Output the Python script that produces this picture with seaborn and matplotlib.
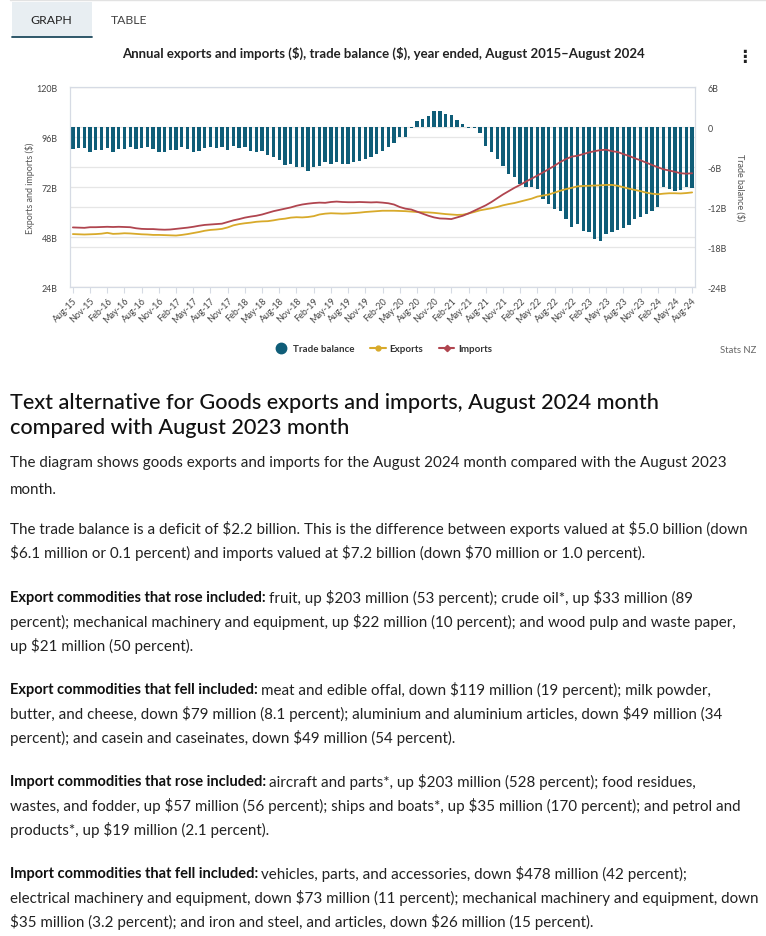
import numpy as np
import pandas as pd
import matplotlib
matplotlib.use("Agg")
import matplotlib.pyplot as plt
from matplotlib.lines import Line2D
import matplotlib.patches as mpatches
import seaborn as sns

# ---------------- data ----------------
months = pd.date_range("2015-08-01", periods=109, freq="MS").strftime("%b-%y").tolist()

trade_balance = [
    -3.3, -3.1, -3.1, -3.7, -3.4, -3.5, -3.1, -3.7, -3.3, -3.3, -3.05,
    -3.3, -3.2, -3.05, -3.3, -3.7, -3.7, -3.4, -3.5, -3.05, -3.3,
    -3.8, -3.55, -3.2, -3.05, -3.2, -3.05, -3.4, -2.8, -3.2, -3.05,
    -3.55, -3.8, -3.55, -4.2, -4.55, -4.9, -5.7, -5.55, -6.05, -6.05, -6.55, -6.05, -5.8,
    -5.3, -5.55, -5.2, -5.55, -5.55, -5.3, -5.05, -4.8, -4.55, -4.05, -3.55, -3.05, -2.45, -1.55, -1.45, -0.2,
    0.9, 1.15, 1.7, 2.35, 2.35, 1.9, 1.8, 1.1, 0.4, -0.12, -0.15,
    -0.95, -2.9, -3.7, -4.8, -5.8, -7.05, -7.55, -8.55, -8.95, -9.05, -9.3, -10.8, -11.55, -12.3, -12.65,
    -13.8, -14.95, -14.55, -15.55, -15.7, -16.8, -17.05, -16.05, -15.8, -15.45, -15.15, -14.65, -13.8,
    -13.55, -13.05, -12.55, -12.05, -9.05, -9.3, -9.55, -9.45, -9.05, -9.15,
]

exports = [
    49.4, 49.3, 49.2, 49.3, 49.4, 49.6, 50.0, 49.5, 49.6, 49.8, 49.7,
    49.5, 49.3, 49.2, 49.0, 49.0, 48.9, 48.8, 48.7, 49.0, 49.4,
    49.9, 50.4, 51.0, 51.4, 51.6, 51.9, 52.6, 53.6, 54.2, 54.6,
    54.9, 55.3, 55.5, 55.6, 56.0, 56.5, 56.8, 57.3, 57.5, 57.4,
    57.6, 58.0, 58.8, 59.2, 59.4, 59.3, 59.2, 59.3, 59.5, 59.7,
    60.0, 60.2, 60.4, 60.6, 60.6, 60.6, 60.5, 60.4, 60.2, 60.0,
    59.9, 59.8, 59.6, 59.3, 59.0, 58.8, 58.6, 58.7, 59.3, 60.0,
    60.8, 61.3, 61.8, 62.4, 63.2, 63.8, 64.3, 65.0, 65.7, 66.4,
    67.4, 67.9, 68.4, 69.3, 70.2, 71.0, 71.6, 72.3, 72.5, 72.6,
    72.7, 72.8, 73.0, 73.0, 72.6, 71.9, 71.2, 70.6, 70.0, 69.3,
    68.8, 68.5, 68.8, 69.0, 69.0, 68.9, 69.1, 69.4,
]

imports = [
    52.6, 52.5, 52.4, 52.7, 52.7, 52.8, 52.9, 52.8, 52.9, 52.8, 52.7,
    52.2, 51.9, 51.8, 51.8, 51.6, 51.5, 51.6, 51.9, 52.2, 52.5,
    52.9, 53.4, 53.8, 54.0, 54.2, 54.4, 55.2, 56.0, 56.6, 57.3,
    57.8, 58.2, 58.8, 59.6, 60.4, 61.0, 61.6, 62.2, 63.0, 63.6,
    64.0, 64.3, 64.5, 64.4, 64.8, 65.0, 64.8, 64.7, 64.7, 64.8,
    64.7, 64.6, 64.7, 64.5, 64.2, 63.6, 62.4, 61.6, 61.2, 60.2,
    59.2, 58.2, 57.4, 56.9, 56.8, 56.6, 57.4, 58.2, 59.3, 60.6,
    61.9, 63.2, 64.8, 66.6, 68.4, 70.0, 71.6, 73.0, 74.6, 76.0,
    77.5, 79.0, 80.6, 82.2, 84.0, 85.4, 86.6, 87.0, 87.8, 88.6,
    89.2, 89.7, 89.9, 89.2, 88.8, 87.8, 86.9, 85.8, 84.8, 83.7,
    82.6, 81.5, 80.5, 79.9, 79.3, 78.6, 78.4, 78.6,
]

left_ticks = [24, 48, 72, 96, 120]
right_ticks = [-24, -18, -12, -6, 0, 6]

df = pd.DataFrame({"idx": np.arange(len(months)), "month": months,
                   "balance": trade_balance, "exports": exports, "imports": imports})

TEAL = "#0f5d78"
GOLD = "#d8aa2b"
RED = "#b0454f"
GRID = "#e6e6e6"
AXC = "#d6dbe4"
TXT = "#222222"

sns.set_theme(style="white")
plt.rcParams["font.family"] = ["Lato", "DejaVu Sans"]
plt.rcParams["text.parse_math"] = False

W, H = 766, 937
fig = plt.figure(figsize=(W / 100, H / 100), dpi=100)

def fx(x):
    return x / W

def fy(y):
    return 1 - y / H

# ---------------- header (tabs, title) ----------------
fig.add_artist(Line2D([fx(10), fx(766)], [fy(1), fy(1)], color="#e2e2e2", lw=1))
fig.add_artist(mpatches.Rectangle((fx(12), fy(38)), fx(80), 35 / H, color="#e8eef2", lw=0))
fig.add_artist(Line2D([fx(12), fx(92)], [fy(38), fy(38)], color="#1f4b5e", lw=1.3))
fig.text(fx(51), fy(20), "GRAPH", ha="center", va="center", fontsize=8.8, color="#222")
fig.text(fx(129), fy(20), "TABLE", ha="center", va="center", fontsize=8.8, color="#444")
fig.text(fx(383), fy(53), "Annual exports and imports ($), trade balance ($), year ended, August 2015\u2013August 2024",
         ha="center", va="center", fontsize=9.5, fontweight="bold", color=TXT)
fig.text(fx(744), fy(57), "\u22ee", ha="center", va="center", fontsize=12, fontweight="bold",
         color="#222", family=["DejaVu Sans"])

# ---------------- chart ----------------
ax = fig.add_axes([fx(70), fy(288), 625 / W, 200 / H])
ax2 = ax.twinx()

sns.barplot(data=df, x="idx", y="balance", ax=ax2, native_scale=True,
            color=TEAL, saturation=1, width=0.58, linewidth=0, zorder=2)
sns.lineplot(data=df, x="idx", y="exports", ax=ax, color=GOLD, lw=1.3, zorder=3)
sns.lineplot(data=df, x="idx", y="imports", ax=ax, color=RED, lw=1.3, zorder=3)

ax.set_zorder(ax2.get_zorder() + 1)
ax.patch.set_visible(False)

ax.set_xlim(-0.5, len(months) - 0.5)
ax.set_ylim(left_ticks[0], left_ticks[-1])
ax2.set_ylim(right_ticks[0], right_ticks[-1])

# gridlines (both scales) underneath bars
ax2.set_axisbelow(True)
for v in right_ticks:
    ax2.axhline(v, color=GRID, lw=0.9, zorder=0)
def left_to_right(v):
    return right_ticks[0] + (v - left_ticks[0]) * (right_ticks[-1] - right_ticks[0]) / (left_ticks[-1] - left_ticks[0])
for v in left_ticks:
    ax2.axhline(left_to_right(v), color=GRID, lw=0.9, zorder=0)
ax.grid(False)
ax2.grid(False)

ax.set_yticks(left_ticks)
ax.set_yticklabels([f"{v}B" for v in left_ticks])
ax2.set_yticks(right_ticks)
ax2.set_yticklabels([("0" if v == 0 else f"{v}B") for v in right_ticks])

xt = df["idx"].values[::3]
ax.set_xticks(xt)
ax.set_xticklabels(df["month"].values[::3], rotation=45, ha="right", rotation_mode="anchor")

ax.tick_params(axis="y", length=0, pad=9, labelsize=6.4, labelcolor="#444")
ax2.tick_params(axis="y", length=0, pad=9, labelsize=6.4, labelcolor="#444")
ax.tick_params(axis="x", length=4, width=0.8, color=AXC, pad=2, labelsize=6.5, labelcolor="#444", bottom=True)
ax2.tick_params(axis="x", length=0)

ax.set_xlabel("")
ax.set_ylabel("Exports and imports ($)", fontsize=6.5, color="#555")
ax.yaxis.set_label_coords(-0.056, 0.5)
ax2.set_ylabel("Trade balance ($)", fontsize=6.5, color="#555", rotation=270, va="bottom")
ax2.yaxis.set_label_coords(1.064, 0.5)

for a in (ax, ax2):
    for s in a.spines.values():
        s.set_color(AXC)
        s.set_linewidth(0.8)

# legend
handles = [
    Line2D([], [], marker="o", ls="none", color=TEAL, markersize=7.5),
    Line2D([], [], color=GOLD, lw=1.5, marker="o", markersize=3.5),
    Line2D([], [], color=RED, lw=1.5, marker="D", markersize=3.2),
]
leg = fig.legend(handles, ["Trade balance", "Exports", "Imports"], loc="center",
                 bbox_to_anchor=(fx(383), fy(350)), ncol=3, frameon=False,
                 handlelength=1.6, handletextpad=0.4, columnspacing=1.6,
                 prop={"weight": "bold", "size": 7})
for t in leg.get_texts():
    t.set_color("#333")
fig.text(fx(756), fy(351), "Stats NZ", ha="right", va="center", fontsize=6.8, color="#666")

# ---------------- text alternative ----------------
HEAD = 15.55
fig.text(fx(10), fy(403), "Text alternative for Goods exports and imports, August 2024 month",
         fontsize=HEAD, va="center", color="#111", fontweight="medium")
fig.text(fx(10), fy(428), "compared with August 2023 month", fontsize=HEAD, va="center", color="#111",
         fontweight="medium")

BODY = 10.9
BOLD = 10.55
renderer = fig.canvas.get_renderer()

def body_line(y, text, bold=None):
    x0 = fx(10)
    if bold:
        t = fig.text(x0, fy(y), bold, fontsize=BOLD, fontweight="bold", va="center", color="#111")
        bb = t.get_window_extent(renderer=renderer)
        x0 = fx(bb.x1 + 3)
    fig.text(x0, fy(y), text, fontsize=BODY, va="center", color="#222")

body_line(463, "The diagram shows goods exports and imports for the August 2024 month compared with the August 2023")
body_line(490, "month.")
body_line(529, "The trade balance is a deficit of $2.2 billion. This is the difference between exports valued at $5.0 billion (down")
body_line(553, "$6.1 million or 0.1 percent) and imports valued at $7.2 billion (down $70 million or 1.0 percent).")
body_line(598, "fruit, up $203 million (53 percent); crude oil*, up $33 million (89", bold="Export commodities that rose included:")
body_line(622, "percent); mechanical machinery and equipment, up $22 million (10 percent); and wood pulp and waste paper,")
body_line(646, "up $21 million (50 percent).")
body_line(690, "meat and edible offal, down $119 million (19 percent); milk powder,", bold="Export commodities that fell included:")
body_line(714, "butter, and cheese, down $79 million (8.1 percent); aluminium and aluminium articles, down $49 million (34")
body_line(738, "percent); and casein and caseinates, down $49 million (54 percent).")
body_line(782, "aircraft and parts*, up $203 million (528 percent); food residues,", bold="Import commodities that rose included:")
body_line(806, "wastes, and fodder, up $57 million (56 percent); ships and boats*, up $35 million (170 percent); and petrol and")
body_line(830, "products*, up $19 million (2.1 percent).")
body_line(874, "vehicles, parts, and accessories, down $478 million (42 percent);", bold="Import commodities that fell included:")
body_line(898, "electrical machinery and equipment, down $73 million (11 percent); mechanical machinery and equipment, down")
body_line(922, "$35 million (3.2 percent); and iron and steel, and articles, down $26 million (15 percent).")

fig.savefig("out.png", dpi=100, facecolor="white")
